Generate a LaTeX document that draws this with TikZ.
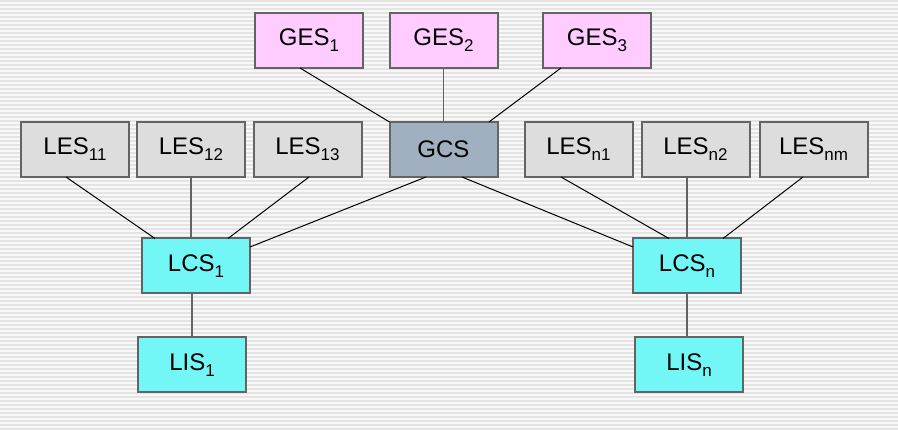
\documentclass[tikz,border=0pt]{standalone}
\usepackage{fontspec}
\setmainfont{Liberation Sans}
\definecolor{gespink}{RGB}{255,204,255}
\definecolor{lesgray}{RGB}{221,221,221}
\definecolor{gcsblue}{RGB}{160,176,192}
\definecolor{lcscyan}{RGB}{115,246,246}
\definecolor{boxedge}{RGB}{100,100,100}
\definecolor{stripe}{RGB}{228,228,228}
\definecolor{bgwhite}{RGB}{248,248,248}
\newcommand{\lowsub}[1]{\raisebox{-6pt}{\fontsize{17}{17}\selectfont #1}}
\tikzset{
  sysbox/.style={draw=boxedge, line width=2pt, minimum width=108pt, minimum height=55pt,
    inner sep=0pt, outer sep=0pt, font=\fontsize{24}{24}\selectfont, text=black},
  gesbox/.style={sysbox, fill=gespink},
  lesbox/.style={sysbox, fill=lesgray},
  gcsbox/.style={sysbox, fill=gcsblue},
  lcsbox/.style={sysbox, fill=lcscyan},
  link/.style={draw=black, line width=1pt},
  vlink/.style={draw=boxedge, line width=1.5pt}
}
\begin{document}
\begin{tikzpicture}[x=1pt, y=-1pt]
\useasboundingbox (0,0) rectangle (898,430);
\fill[bgwhite] (0,0) rectangle (898,430);
\foreach \k in {0,...,107} {
  \draw[stripe, line width=1.5pt] (0,{\k*4+1}) -- (898,{\k*4+1});
}
% nodes
\node[gesbox] (ges1) at (309,40.5) {GES\lowsub{1}};
\node[gesbox] (ges2) at (443.5,40.5) {GES\lowsub{2}};
\node[gesbox] (ges3) at (597,40.5) {GES\lowsub{3}};
\node[lesbox] (les11) at (75,149.5) {LES\lowsub{11}};
\node[lesbox] (les12) at (191,149.5) {LES\lowsub{12}};
\node[lesbox] (les13) at (307.5,149.5) {LES\lowsub{13}};
\node[gcsbox] (gcs) at (443.5,149.5) {GCS};
\node[lesbox] (lesn1) at (578.5,149.5) {LES\lowsub{n1}};
\node[lesbox] (lesn2) at (695.5,149.5) {LES\lowsub{n2}};
\node[lesbox] (lesnm) at (813.5,149.5) {LES\lowsub{nm}};
\node[lcsbox] (lcs1) at (196,266) {LCS\lowsub{1}};
\node[lcsbox] (lcsn) at (687,266) {LCS\lowsub{n}};
\node[lcsbox] (lis1) at (192,365) {LIS\lowsub{1}};
\node[lcsbox] (lisn) at (689,365) {LIS\lowsub{n}};
% connectors
\begin{scope}[on background layer/.style={}]
\draw[link] ([xshift=-9pt]ges1.south) -- (gcs.north west);
\draw[vlink] (ges2.south) -- (gcs.north);
\draw[link] ([xshift=-36pt]ges3.south) -- ([xshift=-8.5pt]gcs.north east);
\draw[link] ([xshift=-17.5pt]gcs.south) -- ([yshift=19pt]lcs1.east);
\draw[link] ([xshift=18.5pt]gcs.south) -- ([yshift=19pt]lcsn.west);
\draw[link] ([xshift=-9pt]les11.south) -- ([xshift=-41pt]lcs1.north);
\draw[vlink] (les12.south) -- (les12.south |- lcs1.north);
\draw[link] ([xshift=1.5pt]les13.south) -- ([xshift=32pt]lcs1.north);
\draw[link] ([xshift=-17.5pt]lesn1.south) -- ([xshift=-18pt]lcsn.north);
\draw[vlink] (lcsn.north) -- (lcsn.north |- lesn2.south);
\draw[link] ([xshift=-10.5pt]lesnm.south) -- ([xshift=36pt]lcsn.north);
\draw[vlink] (lis1.north) -- (lis1.north |- lcs1.south);
\draw[vlink] (lcsn.south) -- (lcsn.south |- lisn.north);
\end{scope}
\end{tikzpicture}
\end{document}
